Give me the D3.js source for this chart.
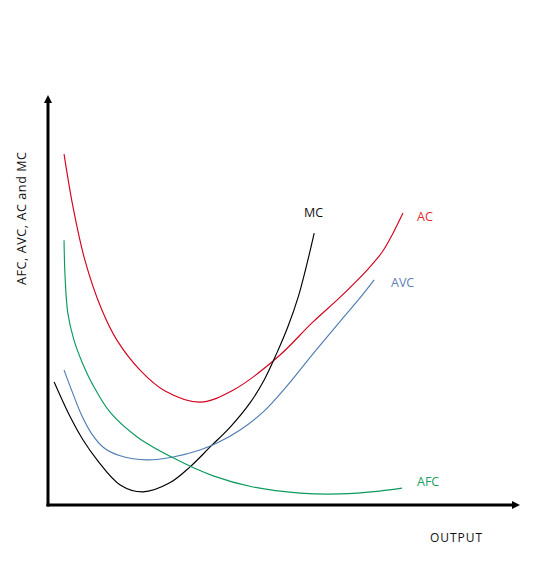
<!DOCTYPE html>
<html>
<head>
<meta charset="utf-8">
<script src="https://cdn.jsdelivr.net/npm/d3@7"></script>
<style>
  html, body { margin: 0; padding: 0; background: #ffffff; }
  svg { display: block; }
  text { font-family: "Open Sans", Lato, "DejaVu Sans", sans-serif; }
</style>
</head>
<body>
<svg id="chart" width="536" height="561"></svg>
<script>
// ---- Data (output units on x, cost units on y) ----
const acX  = [0.34, 0.53, 0.78, 1.14, 1.46, 1.95, 2.48, 3.22, 3.92, 4.85, 5.61, 6.19, 6.76, 7.08, 7.31, 7.52];
const acY  = [8.56, 7.27, 5.98, 4.76, 4.02, 3.29, 2.78, 2.51, 2.80, 3.59, 4.46, 5.07, 5.73, 6.17, 6.63, 7.12];

const mcX  = [0.13, 0.47, 0.74, 1.04, 1.53, 2.01, 2.58, 3.01, 3.43, 3.86, 4.28, 4.58, 4.85, 5.08, 5.30, 5.49, 5.64];
const mcY  = [3.00, 2.15, 1.59, 1.10, 0.49, 0.32, 0.54, 0.93, 1.41, 1.90, 2.49, 3.05, 3.71, 4.34, 5.07, 5.90, 6.63];

const avcX = [0.34, 0.53, 0.72, 0.93, 1.19, 1.53, 2.10, 2.65, 3.22, 3.58, 4.07, 4.56, 5.06, 5.61, 6.19, 6.61, 6.91];
const avcY = [3.29, 2.71, 2.17, 1.73, 1.39, 1.20, 1.10, 1.17, 1.34, 1.51, 1.83, 2.27, 2.90, 3.68, 4.48, 5.05, 5.49];

const afcX = [0.34, 0.36, 0.42, 0.55, 0.72, 0.95, 1.31, 1.89, 2.65, 3.50, 4.34, 5.34, 6.19, 7.03, 7.50];
const afcY = [6.46, 5.61, 4.68, 4.02, 3.49, 2.93, 2.27, 1.66, 1.15, 0.71, 0.44, 0.29, 0.27, 0.34, 0.41];

const seriesNames = ["AC", "MC", "AVC", "AFC"];
const xAxisTitle = "OUTPUT";
const yAxisTitle = "AFC, AVC, AC and MC";

// ---- Layout ----
const svg = d3.select("#chart");
const x = d3.scaleLinear().domain([0, 10]).range([48, 520]);
const y = d3.scaleLinear().domain([0, 10]).range([505, 95]);

const series = [
  { name: seriesNames[0], xs: acX,  ys: acY,  color: "#d4001e", text: "#e42a2a", lx: 417, ly: 221 },
  { name: seriesNames[1], xs: mcX,  ys: mcY,  color: "#000000", text: "#111111", lx: 304, ly: 217 },
  { name: seriesNames[2], xs: avcX, ys: avcY, color: "#4f7cb3", text: "#5d82b6", lx: 391, ly: 287 },
  { name: seriesNames[3], xs: afcX, ys: afcY, color: "#0c9a5c", text: "#1a9f62", lx: 417, ly: 486 }
];

const line = d3.line()
  .x(d => x(d[0]))
  .y(d => y(d[1]))
  .curve(d3.curveCatmullRom.alpha(0.5));

series.forEach(s => {
  const pts = s.xs.map((v, i) => [v, s.ys[i]]);
  svg.append("path")
    .attr("d", line(pts))
    .attr("fill", "none")
    .attr("stroke", s.color)
    .attr("stroke-width", 1.15);
  svg.append("text")
    .attr("x", s.lx)
    .attr("y", s.ly)
    .attr("fill", s.text)
    .attr("font-size", 12.5)
    .text(s.name);
});

// ---- Axes with arrowheads ----
const x0 = x(0), y0 = y(0);
const xEnd = x(10), yEnd = y(10);

// vertical axis
svg.append("line")
  .attr("x1", x0).attr("y1", y0 + 1.5)
  .attr("x2", x0).attr("y2", yEnd + 6)
  .attr("stroke", "#000").attr("stroke-width", 3);
svg.append("path")
  .attr("d", `M${x0},${yEnd} L${x0 - 4},${yEnd + 8} L${x0 + 4},${yEnd + 8} Z`)
  .attr("fill", "#000");

// horizontal axis
svg.append("line")
  .attr("x1", x0 - 1.5).attr("y1", y0)
  .attr("x2", xEnd - 6).attr("y2", y0)
  .attr("stroke", "#000").attr("stroke-width", 3);
svg.append("path")
  .attr("d", `M${xEnd},${y0} L${xEnd - 8},${y0 - 4} L${xEnd - 8},${y0 + 4} Z`)
  .attr("fill", "#000");

// axis titles
svg.append("text")
  .attr("x", 430).attr("y", 542)
  .attr("font-size", 12)
  .attr("textLength", 52)
  .attr("fill", "#111")
  .text(xAxisTitle);

svg.append("text")
  .attr("transform", "translate(26,285) rotate(-90)")
  .attr("font-size", 12.5)
  .attr("textLength", 133)
  .attr("fill", "#111")
  .text(yAxisTitle);
</script>
</body>
</html>
